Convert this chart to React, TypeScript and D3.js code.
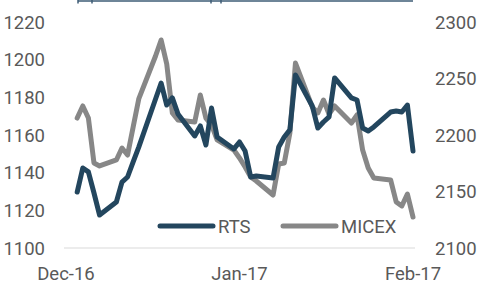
import { useEffect, useRef } from 'react';
import * as d3 from 'd3';

// trading dates (as plotted), shared by both series
const dates = [
  '2016-12-03', '2016-12-04', '2016-12-05', '2016-12-06', '2016-12-07',
  '2016-12-10', '2016-12-11', '2016-12-12', '2016-12-13', '2016-12-14',
  '2016-12-17', '2016-12-18', '2016-12-19', '2016-12-20', '2016-12-21',
  '2016-12-24', '2016-12-25', '2016-12-26', '2016-12-27', '2016-12-28',
  '2016-12-31', '2017-01-01', '2017-01-02', '2017-01-03', '2017-01-04',
  '2017-01-07', '2017-01-08', '2017-01-09', '2017-01-10', '2017-01-11',
  '2017-01-14', '2017-01-15', '2017-01-16', '2017-01-17', '2017-01-18',
  '2017-01-21', '2017-01-22', '2017-01-23', '2017-01-24', '2017-01-25',
  '2017-01-28', '2017-01-29', '2017-01-30', '2017-01-31', '2017-02-01',
];

const rts = [
  1129.7, 1142.5, 1140.4, 1129.2, 1117.5,
  1124.4, 1135.0, 1137.7, 1145.7, 1153.6,
  1179.1, 1187.6, 1175.9, 1179.7, 1171.2,
  1159.5, 1164.8, 1154.7, 1174.3, 1158.9,
  1152.6, 1156.3, 1151.5, 1137.7, 1138.2,
  1137.2, 1153.6, 1158.9, 1162.7, 1191.9,
  1175.4, 1163.7, 1166.9, 1169.6, 1190.3,
  1179.7, 1178.6, 1163.7, 1162.1, 1164.3,
  1172.2, 1172.7, 1172.2, 1175.9, 1151.5,
];

const micex = [
  2215.0, 2225.7, 2215.0, 2175.2, 2172.6,
  2177.9, 2188.5, 2182.3, 2207.1, 2231.9,
  2269.9, 2284.1, 2262.8, 2219.5, 2213.3,
  2211.5, 2235.4, 2215.0, 2208.9, 2195.6,
  2186.7, 2179.7, 2171.7, 2162.8, 2159.3,
  2146.9, 2174.3, 2175.2, 2201.8, 2263.7,
  2224.8, 2219.5, 2231.0, 2218.6, 2225.7,
  2210.6, 2217.7, 2186.7, 2170.8, 2162.0,
  2160.2, 2140.7, 2137.2, 2147.8, 2127.4,
];

const leftTicks = [1100, 1120, 1140, 1160, 1180, 1200, 1220];
const rightTicks = [2100, 2150, 2200, 2250, 2300];
const monthTicks = ['2016-12-01', '2017-01-01', '2017-02-01'];
const monthLabels = ['Dec-16', 'Jan-17', 'Feb-17'];
const seriesNames = ['RTS', 'MICEX'];

const RTS_COLOR = '#23465e';
const MICEX_COLOR = '#878787';
const TEXT_COLOR = '#595959';

function App() {
  const svgRef = useRef(null);
  const mountedRef = useRef(false);

  useEffect(() => {
    if (mountedRef.current) return;
    mountedRef.current = true;

    const svg = d3.select(svgRef.current);
    svg.selectAll('*').remove();

    const parse = (s: string) => new Date(s + 'T00:00:00Z');
    const x = d3
      .scaleUtc()
      .domain([parse(monthTicks[0]), parse(monthTicks[monthTicks.length - 1])])
      .range([66, 413]);
    const yLeft = d3.scaleLinear().domain([1100, 1220]).range([248, 22]);
    const yRight = d3.scaleLinear().domain([2100, 2300]).range([248, 22]);

    const font = 'Roboto, "Noto Sans", sans-serif';

    // clipped border of the chart above
    const top = svg.append('g').attr('stroke', '#3e5c76').attr('stroke-width', 1.5);
    top.append('line').attr('x1', 78).attr('x2', 413).attr('y1', 1).attr('y2', 1);
    [78, 92, 211, 221].forEach((tx) => {
      top.append('line').attr('x1', tx).attr('x2', tx).attr('y1', 0).attr('y2', 3.5);
    });

    // baseline gridline
    svg
      .append('line')
      .attr('x1', x.range()[0] - 2)
      .attr('x2', x.range()[1] + 2)
      .attr('y1', yLeft(1100))
      .attr('y2', yLeft(1100))
      .attr('stroke', '#d9d9d9')
      .attr('stroke-width', 1.2);

    const axisText = (g: any) =>
      g.attr('font-family', font).attr('font-size', 18.5).attr('fill', TEXT_COLOR);

    axisText(svg.append('g'))
      .selectAll('text')
      .data(leftTicks)
      .enter()
      .append('text')
      .attr('x', 45)
      .attr('y', (d: number) => yLeft(d))
      .attr('dy', '0.36em')
      .attr('text-anchor', 'end')
      .text((d: number) => d);

    axisText(svg.append('g'))
      .selectAll('text')
      .data(rightTicks)
      .enter()
      .append('text')
      .attr('x', 435)
      .attr('y', (d: number) => yRight(d))
      .attr('dy', '0.36em')
      .attr('text-anchor', 'start')
      .text((d: number) => d);

    axisText(svg.append('g'))
      .selectAll('text')
      .data(monthTicks)
      .enter()
      .append('text')
      .attr('x', (d: string) => x(parse(d)))
      .attr('y', 280)
      .attr('text-anchor', 'middle')
      .text((d: string, i: number) => monthLabels[i]);

    const pts = dates.map((d, i) => ({ date: parse(d), rts: rts[i], micex: micex[i] }));

    const rtsLine = d3
      .line<any>()
      .x((d) => x(d.date))
      .y((d) => yLeft(d.rts));
    const micexLine = d3
      .line<any>()
      .x((d) => x(d.date))
      .y((d) => yRight(d.micex));

    svg
      .append('path')
      .datum(pts)
      .attr('d', micexLine)
      .attr('fill', 'none')
      .attr('stroke', MICEX_COLOR)
      .attr('stroke-width', 5)
      .attr('stroke-linejoin', 'round')
      .attr('stroke-linecap', 'round');

    svg
      .append('path')
      .datum(pts)
      .attr('d', rtsLine)
      .attr('fill', 'none')
      .attr('stroke', RTS_COLOR)
      .attr('stroke-width', 5)
      .attr('stroke-linejoin', 'round')
      .attr('stroke-linecap', 'round');

    // legend
    const legend = svg.append('g').attr('transform', 'translate(0, 226)');
    const legendX = [160, 283];
    const colors = [RTS_COLOR, MICEX_COLOR];
    seriesNames.forEach((name, i) => {
      legend
        .append('line')
        .attr('x1', legendX[i])
        .attr('x2', legendX[i] + 53)
        .attr('stroke', colors[i])
        .attr('stroke-width', 5)
        .attr('stroke-linecap', 'round');
      axisText(legend.append('text'))
        .attr('x', legendX[i] + 58)
        .attr('dy', '0.36em')
        .text(name);
    });
  }, []);

  return (
    <svg
      ref={svgRef}
      width={480}
      height={284}
      style={{ position: 'absolute', left: 0, top: 0, background: '#fff' }}
    />
  );
}

export default App;
